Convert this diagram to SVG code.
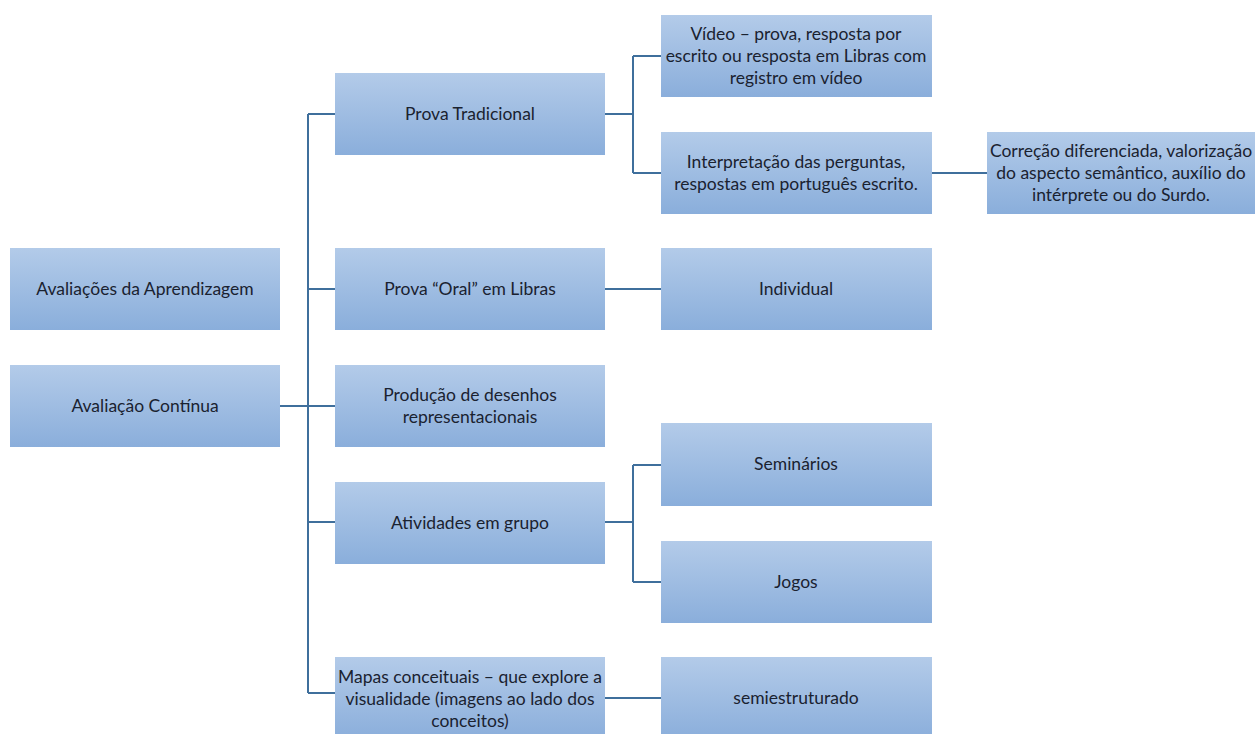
<svg xmlns="http://www.w3.org/2000/svg" width="1259" height="734" viewBox="0 0 1259 734">
<defs>
<linearGradient id="g" x1="0" y1="0" x2="0" y2="1">
<stop offset="0" stop-color="#b3cbe9"/>
<stop offset="1" stop-color="#8aaedb"/>
</linearGradient>
<style>
.b{fill:url(#g);}
.t{font-family:Lato,"Open Sans","Liberation Sans",sans-serif;font-size:17.5px;fill:#1a2230;text-anchor:middle;}
.c{fill:none;stroke:#3f6f9c;stroke-width:2;}
</style>
</defs>
<rect width="1259" height="734" fill="#ffffff"/>
<g id="connectors">
<path class="c" d="M280,406 H335"/>
<path class="c" d="M308,114 V693"/>
<path class="c" d="M308,114 H335"/>
<path class="c" d="M308,289 H335"/>
<path class="c" d="M308,522 H335"/>
<path class="c" d="M308,693 H335"/>
<path class="c" d="M605,114 H633"/>
<path class="c" d="M633,56 V173"/>
<path class="c" d="M633,56 H661"/>
<path class="c" d="M633,173 H661"/>
<path class="c" d="M932,173 H987"/>
<path class="c" d="M605,289 H661"/>
<path class="c" d="M605,522 H633"/>
<path class="c" d="M633,465 V582"/>
<path class="c" d="M633,465 H661"/>
<path class="c" d="M633,582 H661"/>
<path class="c" d="M605,698 H661"/>
</g>
<g id="n-aprendizagem"><rect class="b" x="10" y="248" width="270" height="82"/><text class="t" x="145" y="295">Avaliações da Aprendizagem</text></g>
<g id="n-continua"><rect class="b" x="10" y="365" width="270" height="82"/><text class="t" x="145" y="412">Avaliação Contínua</text></g>
<g id="n-prova"><rect class="b" x="335" y="73" width="270" height="82"/><text class="t" x="470" y="120">Prova Tradicional</text></g>
<g id="n-oral"><rect class="b" x="335" y="248" width="270" height="82"/><text class="t" x="470" y="295">Prova “Oral” em Libras</text></g>
<g id="n-desenhos"><rect class="b" x="335" y="365" width="270" height="82"/><text class="t" x="470" y="401">Produção de desenhos</text><text class="t" x="470" y="423">representacionais</text></g>
<g id="n-grupo"><rect class="b" x="335" y="482" width="270" height="82"/><text class="t" x="470" y="529">Atividades em grupo</text></g>
<g id="n-mapas"><rect class="b" x="335" y="657" width="270" height="82"/><text class="t" x="470" y="683">Mapas conceituais – que explore a</text><text class="t" x="470" y="705">visualidade (imagens ao lado dos</text><text class="t" x="470" y="727">conceitos)</text></g>
<g id="n-video"><rect class="b" x="661" y="15" width="271" height="82"/><text class="t" x="796" y="40">Vídeo – prova, resposta por</text><text class="t" x="796" y="62">escrito ou resposta em Libras com</text><text class="t" x="796" y="84">registro em vídeo</text></g>
<g id="n-interpretacao"><rect class="b" x="661" y="132" width="271" height="82"/><text class="t" x="796" y="168">Interpretação das perguntas,</text><text class="t" x="796" y="190">respostas em português escrito.</text></g>
<g id="n-correcao"><rect class="b" x="987" y="132" width="268" height="82"/><text class="t" x="1121" y="157">Correção diferenciada, valorização</text><text class="t" x="1121" y="179">do aspecto semântico, auxílio do</text><text class="t" x="1121" y="201">intérprete ou do Surdo.</text></g>
<g id="n-individual"><rect class="b" x="661" y="248" width="271" height="82"/><text class="t" x="796" y="295">Individual</text></g>
<g id="n-seminarios"><rect class="b" x="661" y="423" width="271" height="83"/><text class="t" x="796" y="470">Seminários</text></g>
<g id="n-jogos"><rect class="b" x="661" y="541" width="271" height="82"/><text class="t" x="796" y="588">Jogos</text></g>
<g id="n-semi"><rect class="b" x="661" y="657" width="271" height="82"/><text class="t" x="796" y="704">semiestruturado</text></g>
</svg>
